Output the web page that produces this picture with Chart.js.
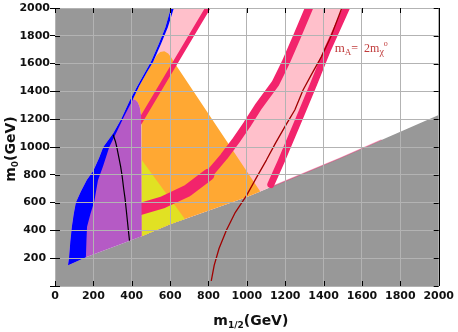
<!DOCTYPE html>
<html><head><meta charset="utf-8">
<script src="https://cdn.jsdelivr.net/npm/chart.js@4.4.1/dist/chart.umd.min.js"></script>
<style>html,body{margin:0;padding:0;background:#fff;}canvas{display:block;}</style>
</head><body>
<canvas id="c" width="458" height="332"></canvas>
<script>
// ---------- data: points are [m1/2, m0] in GeV ----------
const gridValues = [0,200,400,600,800,1000,1200,1400,1600,1800,2000];
const xTitleParts = ['m','1/2','(GeV)'];
const yTitleParts = ['m','0','(GeV)'];
const funnelLabelParts = ['m','A','=  2m','\u03c7','o'];

const plotBox = [[0,0],[2000,0],[2000,2000],[0,2000]];
const leftEdge = [[68,150],[73,200],[80,320],[88,427],[98,520],[109,600],[135,680],[166,763],[200,830],[230,920],[252,1000],[304,1099],[345,1200],[391,1338],[430,1440],[470,1540],[500,1614],[540,1740],[575,1860],[604,2000]];
const blueInner = [[161,207],[164,330],[167,427],[185,520],[205,610],[224,760],[250,860],[283,1000],[322,1110],[360,1220],[405,1340],[440,1440],[480,1540],[512,1614],[552,1740],[588,1860],[620,2000]];
const bottomEdge = [[68,150],[161,207],[390,325],[440,352],[452,358],[600,445],[677,482],[1000,640],[1070,680],[1125,712],[1484,919],[2000,1230]];
const purpleCap = [[405,1345],[420,1338],[432,1320],[442,1285],[449,1225],[452,1160]];
const orangePeak = [[405,1340],[440,1440],[480,1540],[512,1614],[530,1660],[548,1683],[570,1688],[590,1672],[605,1645],[625,1600],[1070,680]];
const yellowZone = [[452,906],[677,482],[600,445],[452,358]];
const band1 = [[440,1175],[805,2020]];
const band2 = [[440,552],[564,603],[690,685],[800,800],[880,930],[940,1040],[1000,1160],[1060,1290],[1150,1460],[1200,1600],[1260,1790],[1330,2020]];
const band3 = [[1125,730],[1180,900],[1235,1080],[1290,1260],[1350,1460],[1420,1700],[1525,2020]];
const edgePink = [[1130,715],[1484,919],[1700,1050]];
const blackLine = [[304,1085],[315,1040],[322,1000],[332,930],[342,860],[350,790],[358,700],[365,630],[372,540],[378,460],[384,380],[388,330]];
const redLine = [[815,40],[830,150],[855,270],[894,403],[940,530],[998,650],[1050,780],[1102,906],[1150,1030],[1200,1150],[1250,1266],[1293,1410],[1340,1530],[1389,1650],[1440,1800],[1495,2000]];

// ---------- region polygons built from the arrays ----------
const rev = a => a.slice().reverse();
const whiteZone = leftEdge.concat([[2000,2000]], rev(bottomEdge));
const purpleZone = leftEdge.slice(0,14).concat(purpleCap, [[452,358],[390,325],[161,207]]);
const blueZone = leftEdge.concat(rev(blueInner));
const orangeZone = orangePeak.concat([[1000,640],[677,482],[600,445],[452,358]], rev(purpleCap));
const pinkUpper = blueInner.slice(10).concat([[800,2000],[440,1175]]);
const funnelZone = rev(band2).concat([[440,352],[452,358],[600,445],[677,482],[1000,640],[1070,680],[1125,712]], band3);

const C = {gray:'#989898', white:'#ffffff', lpink:'#ffc0cb', orange:'#ffa833', yellow:'#e1e123',
  purple:'#b55ac5', hpink:'#f2246c', blue:'#0000ff', black:'#000000', red:'#a00000', grid:'#b3b3b3'};

const toXY = pts => pts.map(([x,y]) => ({x, y}));
let ord = 1;
const layers = [];
function stroke(pts, color, width){ layers.push({data:toXY(pts), showLine:true, fill:false, borderColor:color, borderWidth:width, borderCapStyle:'round', borderJoinStyle:'round', pointRadius:0, tension:0, clip:0, order:ord++}); }
function area(pts, color){ layers.push({data:toXY(pts), showLine:true, fill:'shape', backgroundColor:color, borderColor:'transparent', borderWidth:0, pointRadius:0, tension:0, clip:0, order:ord++}); }
// top-most first
stroke(redLine, C.red, 1.3);
stroke(blackLine, C.black, 1.2);
area(blueZone, C.blue);
area(purpleZone, C.purple);
stroke(band1, C.hpink, 5);
stroke(band2.slice(0,4), C.hpink, 12);
stroke(band2, C.hpink, 8);
stroke(band3, C.hpink, 7);
stroke(edgePink, 'rgba(242,36,108,0.45)', 1.2);
area(yellowZone, C.yellow);
area(orangeZone, C.orange);
area(pinkUpper, C.lpink);
area(funnelZone, C.lpink);
area(whiteZone, C.white);
area(plotBox, C.gray);

function drawRuns(ctx, runs, cx, baseY, family, weight, color){
  ctx.fillStyle = color; ctx.textBaseline = 'alphabetic'; ctx.textAlign = 'left';
  let total = 0;
  runs.forEach(r => { ctx.font = `${weight} ${r.size}px ${family}`; r.w = ctx.measureText(r.t).width; total += r.w; });
  let x = cx - total/2;
  runs.forEach(r => { ctx.font = `${weight} ${r.size}px ${family}`; ctx.fillText(r.t, x, baseY + (r.dy||0)); x += r.w; });
}

const decor = {
  id:'decor',
  afterDraw(chart){
    const {ctx, chartArea:a, scales:{x, y}} = chart;
    ctx.save();
    // inward ticks + right border
    ctx.strokeStyle = '#000'; ctx.lineWidth = 1;
    ctx.beginPath();
    gridValues.forEach(v => {
      const px = Math.round(x.getPixelForValue(v)) + 0.5;
      ctx.moveTo(px, a.top); ctx.lineTo(px, a.top + 5);
      ctx.moveTo(px, a.bottom); ctx.lineTo(px, a.bottom - 5);
      const py = Math.round(y.getPixelForValue(v)) + 0.5;
      ctx.moveTo(a.left, py); ctx.lineTo(a.left + 5, py);
      ctx.moveTo(a.right, py); ctx.lineTo(a.right - 5, py);
    });
    ctx.moveTo(Math.round(a.right)+0.5, a.top); ctx.lineTo(Math.round(a.right)+0.5, a.bottom);
    ctx.stroke();
    // axis titles
    const fam = '"DejaVu Sans", sans-serif';
    drawRuns(ctx, [{t:xTitleParts[0], size:14},{t:xTitleParts[1], size:9, dy:3},{t:xTitleParts[2], size:14}],
      (a.left + a.right)/2 + 4, a.bottom + 39, fam, 'bold', '#111');
    ctx.save();
    ctx.translate(15, (a.top + a.bottom)/2 + 2);
    ctx.rotate(-Math.PI/2);
    drawRuns(ctx, [{t:yTitleParts[0], size:14},{t:yTitleParts[1], size:9, dy:3},{t:yTitleParts[2], size:14}],
      0, 0, fam, 'bold', '#111');
    ctx.restore();
    // funnel label (left-anchored at data position)
    const ax = x.getPixelForValue(1458), ay = y.getPixelForValue(1683);
    const runs = [{t:funnelLabelParts[0], size:13},{t:funnelLabelParts[1], size:9, dy:3},{t:funnelLabelParts[2], size:12},
      {t:funnelLabelParts[3], size:10, dy:3},{t:funnelLabelParts[4], size:8, dy:-6}];
    let tot = 0; runs.forEach(r => { ctx.font = `${r.size}px "Liberation Serif", serif`; tot += ctx.measureText(r.t).width; });
    drawRuns(ctx, runs, ax + tot/2, ay, '"Liberation Serif", serif', 'normal', '#c03a3a');
    ctx.restore();
  }
};

const tickFont = {family:'"DejaVu Sans", sans-serif', size:11, weight:'bold'};
new Chart(document.getElementById('c'), {
  type:'scatter',
  data:{datasets:layers},
  options:{
    responsive:false, animation:false, devicePixelRatio:1, events:[],
    layout:{padding:{top:8, right:19, left:0, bottom:0}},
    plugins:{legend:{display:false}, tooltip:{enabled:false}},
    scales:{
      x:{type:'linear', min:0, max:2000,
        afterBuildTicks:s => { s.ticks = gridValues.map(v => ({value:v})); },
        afterFit:s => { s.height = 46; },
        grid:{z:1, color:C.grid, lineWidth:1, drawTicks:false},
        border:{display:false},
        ticks:{autoSkip:false, maxRotation:0, padding:4, color:'#111', font:tickFont,
          callback:v => String(v)}},
      y:{type:'linear', min:0, max:2000,
        afterBuildTicks:s => { s.ticks = gridValues.map(v => ({value:v})); },
        afterFit:s => { s.width = 55; },
        grid:{z:1, color:C.grid, lineWidth:1, drawTicks:true, tickLength:5, tickColor:'#000'},
        border:{display:false},
        ticks:{autoSkip:false, padding:0, crossAlign:'center', color:'#111', font:tickFont,
          callback:v => v === 0 ? '' : String(v)}}
    }
  },
  plugins:[decor]
});
</script>
</body></html>
